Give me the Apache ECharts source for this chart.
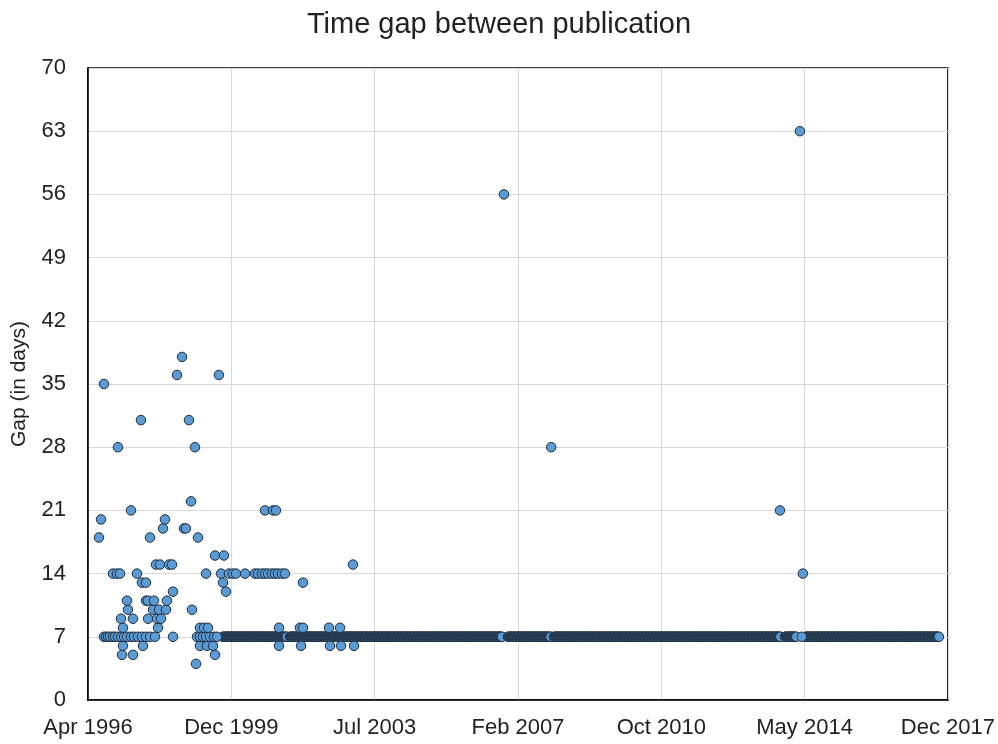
<!DOCTYPE html>
<html>
<head>
<meta charset="utf-8">
<title>Time gap between publication</title>
<script src="https://cdn.jsdelivr.net/npm/echarts@6/dist/echarts.min.js"></script>
<style>
  html, body { margin: 0; background: #fff; }
  #chart { width: 998px; height: 744px; }
</style>
</head>
<body>
<div id="chart"></div>
<script>
// x axis runs in days from the first tick (22 Apr 1996), one tick every 1320 days
const START = Date.UTC(1996, 3, 22);
const xTickDays = [0, 1320, 2640, 3960, 5280, 6600, 7920];
const yTicks = [0, 7, 14, 21, 28, 35, 42, 49, 56, 63, 70];
const MONTHS = ['Jan', 'Feb', 'Mar', 'Apr', 'May', 'Jun', 'Jul', 'Aug', 'Sep', 'Oct', 'Nov', 'Dec'];

// stretches where an issue came out every week (gap = 7 days)
const weeklyRuns = [
  ['1999-09-17', '2001-04-29'],
  ['2001-05-26', '2006-09-30'],
  ['2006-11-24', '2007-12-25'],
  ['2008-01-21', '2013-10-12'],
  ['2013-11-18', '2014-03-08'],
  ['2014-05-30', '2017-10-06']
];

// the other publications (date, gap in days)
const pointDates = [
  '1999-01-12',
  '1997-03-01', '1997-06-10', '1999-07-06',
  '1997-03-10', '1997-09-10', '1999-02-17', '1999-04-23', '1999-06-17', '2001-02-14', '2001-09-05', '2002-05-30', '2002-09-08', '2003-01-06',
  '1996-09-16', '1996-10-05', '1996-10-23', '1996-11-11', '1996-12-08', '1996-12-27', '1997-01-23', '1997-02-20', '1997-03-20', '1997-04-16',
  '1997-05-23', '1997-06-20', '1997-07-26', '1997-09-01', '1997-10-08', '1997-11-14', '1997-12-30', '1998-06-14', '1999-01-21', '1999-02-17',
  '1999-03-17', '1999-04-14', '1999-05-20', '1999-06-26', '1999-07-24', '2014-04-23',
  '1997-03-10', '1998-01-27', '1999-02-17', '1999-03-26', '1999-05-02', '2001-02-14', '2001-08-26', '2001-09-23', '2002-05-20', '2002-08-30',
  '1997-02-20', '1997-06-10', '1997-10-27', '1998-01-17', '1998-02-23',
  '1997-04-25', '1997-12-12', '1998-02-05', '1998-04-10', '1998-12-06',
  '1997-04-16', '1997-10-08', '1997-10-27', '1997-12-21', '1998-04-19',
  '1998-06-14', '1999-10-15',
  '1997-09-01', '1997-10-08', '1999-09-17', '2001-09-23',
  '1996-12-08', '1997-01-14', '1997-02-11', '1997-07-17', '1999-04-14', '1999-08-30', '1999-11-11', '1999-12-18', '2000-01-15', '2000-04-07',
  '2000-07-08', '2000-08-05', '2000-09-10', '2000-10-08', '2000-11-05', '2000-12-11', '2001-01-08', '2001-02-05', '2001-03-14', '2001-04-10',
  '2014-05-02',
  '1998-01-08', '1998-02-14', '1998-05-08', '1998-06-05', '2002-12-27',
  '1999-07-06', '1999-09-26',
  '1996-08-01', '1997-11-14', '1999-01-30',
  '1998-03-14', '1998-09-23', '1998-10-11',
  '1996-08-20', '1998-04-01',
  '1997-05-23', '2000-10-08', '2000-12-21', '2001-01-17', '2013-10-03',
  '1998-11-27',
  '1997-01-23', '1999-01-02', '2007-12-27',
  '1997-08-23', '1998-11-08',
  '1996-09-16',
  '1998-07-21', '1999-08-11',
  '1998-09-05',
  '2006-10-18',
  '2014-04-05'
];
const pointGaps = [
  4,
  5, 5, 5,
  6, 6, 6, 6, 6, 6, 6, 6, 6, 6,
  7, 7, 7, 7, 7, 7, 7, 7, 7, 7,
  7, 7, 7, 7, 7, 7, 7, 7, 7, 7,
  7, 7, 7, 7, 7, 7,
  8, 8, 8, 8, 8, 8, 8, 8, 8, 8,
  9, 9, 9, 9, 9,
  10, 10, 10, 10, 10,
  11, 11, 11, 11, 11,
  12, 12,
  13, 13, 13, 13,
  14, 14, 14, 14, 14, 14, 14, 14, 14, 14,
  14, 14, 14, 14, 14, 14, 14, 14, 14, 14,
  14,
  15, 15, 15, 15, 15,
  16, 16,
  18, 18, 18,
  19, 19, 19,
  20, 20,
  21, 21, 21, 21, 21,
  22,
  28, 28, 28,
  31, 31,
  35,
  36, 36,
  38,
  56,
  63
];

const DAY = 86400000;
const toDay = s => (Date.parse(s) - START) / DAY;

function dayLabel(v) {
  const d = new Date(START + v * DAY);
  return MONTHS[d.getUTCMonth()] + ' ' + d.getUTCFullYear();
}

const data = [];
weeklyRuns.forEach(([a, b]) => {
  for (let d = toDay(a); d <= toDay(b); d += 7) data.push([d, 7]);
});
pointDates.forEach((s, i) => data.push([toDay(s), pointGaps[i]]));

const FONT = 'Liberation Sans';
const chart = echarts.init(document.getElementById('chart'));
chart.setOption({
  backgroundColor: '#fff',
  animation: false,
  title: {
    text: 'Time gap between publication',
    left: 'center',
    top: 5,
    textStyle: { fontFamily: FONT, fontSize: 29, fontWeight: 'normal', color: '#222' }
  },
  grid: {
    left: 88, right: 50, top: 68, bottom: 44,
    show: true, borderColor: '#000', borderWidth: 1.5
  },
  xAxis: {
    type: 'value',
    min: xTickDays[0],
    max: xTickDays[xTickDays.length - 1],
    interval: xTickDays[1] - xTickDays[0],
    axisLine: { show: true, lineStyle: { color: '#000', width: 1.5 } },
    axisTick: { show: false },
    splitLine: { show: true, lineStyle: { color: '#d9d9d9', width: 1 } },
    axisLabel: { formatter: dayLabel, fontFamily: FONT, fontSize: 22, color: '#222', margin: 17 }
  },
  yAxis: {
    type: 'value',
    min: yTicks[0],
    max: yTicks[yTicks.length - 1],
    interval: yTicks[1] - yTicks[0],
    name: 'Gap (in days)',
    nameLocation: 'middle',
    nameGap: 58,
    nameTextStyle: { fontFamily: FONT, fontSize: 21, color: '#222' },
    axisLine: { show: true, lineStyle: { color: '#000', width: 1.5 } },
    axisTick: { show: false },
    splitLine: { show: true, lineStyle: { color: '#d9d9d9', width: 1 } },
    axisLabel: { fontFamily: FONT, fontSize: 22, color: '#222', margin: 22 }
  },
  series: [{
    type: 'scatter',
    data: data,
    symbolSize: 9.5,
    itemStyle: { color: '#5b9bd5', borderColor: '#1e2c3b', borderWidth: 1, opacity: 1 },
    emphasis: { disabled: true }
  }]
});
</script>
</body>
</html>
